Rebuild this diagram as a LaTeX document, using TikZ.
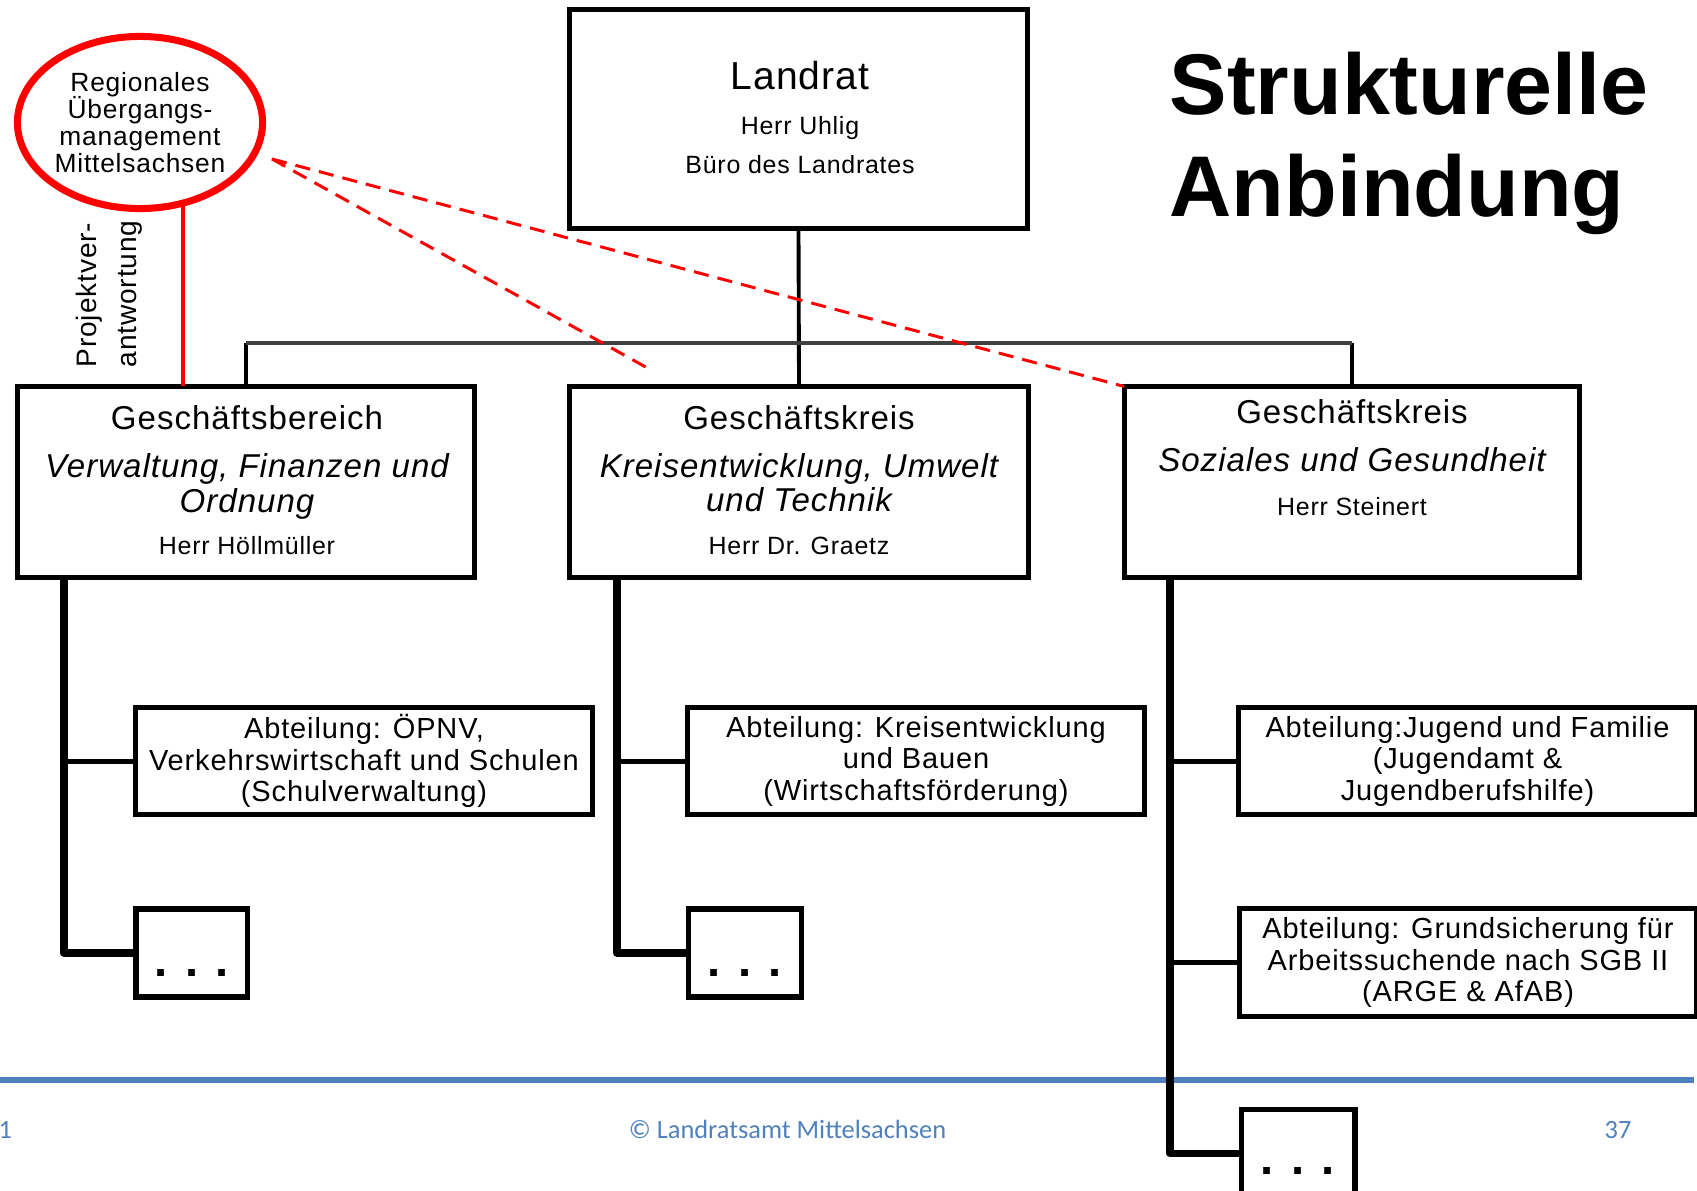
\documentclass[tikz,border=0pt]{standalone}
\usepackage{fontspec}
\usetikzlibrary{shapes.geometric}

\newfontfamily\orgfont[LetterSpace=3]{Liberation Sans}
\newfontfamily\titlefont{Liberation Sans}
\newfontfamily\footfont{Carlito}
\definecolor{footblue}{RGB}{79,129,189}
\newcommand{\orgsize}[2]{\fontsize{#1}{#2}\selectfont\lineskiplimit=-100pt}

\tikzset{
  orgbox/.style={draw, rectangle, line width=1.42pt, inner sep=0pt, outer sep=0pt},
  abtext/.style={font=\orgfont\orgsize{8.25}{8.93}, align=center},
  chieftext/.style={font=\orgfont\orgsize{11.1}{13}, anchor=base},
  headtext/.style={font=\orgfont\orgsize{9.4}{11}, anchor=base},
  areatext/.style={font=\orgfont\itshape\orgsize{9.4}{11}, anchor=base},
  nametext/.style={font=\orgfont\orgsize{7.1}{8.5}, anchor=base},
  moretext/.style={font=\titlefont\bfseries\orgsize{13.4}{15}, anchor=base},
  titletext/.style={font=\titlefont\bfseries\orgsize{24.5}{29}, anchor=base west, inner sep=0pt},
  projtext/.style={font=\orgfont\orgsize{8}{9}, rotate=90, anchor=base west, inner sep=0pt},
  foottext/.style={font=\footfont\orgsize{7.5}{9}, text=footblue, inner sep=0pt},
  topline/.style={line width=1.1pt},
  barline/.style={line width=1.2pt, black!75},
  trunk/.style={line width=2.2pt, line join=round},
  branch/.style={line width=1.4pt},
  projline/.style={red, line width=1pt},
  reddash/.style={red, line width=0.85pt, dash pattern=on 4.3pt off 2.6pt},
  footline/.style={footblue, line width=1.7pt}
}

\begin{document}
\begin{tikzpicture}[x=0.01cm, y=-0.01cm]
\useasboundingbox (0,0) rectangle (1697,1191);
\clip (0,0) rectangle (1697,1191);

% footer
\draw[footline] (0,1080) -- (1694,1080);
\node[foottext, anchor=base west] (pgl) at (-2,1138) {1};
\node[foottext, anchor=base] (copy) at (787.5,1138) {© Landratsamt Mittelsachsen};
\node[foottext, anchor=base] (pgr) at (1618,1138) {37};

% title
\node[titletext] (tit1) at (1169,115) {Strukturelle};
\node[titletext] (tit2) at (1169,217) {Anbindung};

% Landrat
\node[orgbox, minimum width=4.58cm, minimum height=2.185cm] (landrat) at (798.5,118.75) {};
\node[chieftext] (lrname) at (800,90) {Landrat};
\node[nametext] (lrherr) at (800,135) {Herr Uhlig};
\node[nametext] (lrbuero) at (800,173) {Büro des Landrates};

% Geschaeftsbereiche
\node[orgbox, minimum width=4.56cm, minimum height=1.91cm] (gb) at (246,482) {};
\node[headtext] (gbhead) at (247,429) {Geschäftsbereich};
\node[areatext] (gbarea1) at (247,477) {Verwaltung, Finanzen und};
\node[areatext] (gbarea2) at (247,512) {Ordnung};
\node[nametext] (gbherr) at (247,554) {Herr Höllmüller};

\node[orgbox, minimum width=4.58cm, minimum height=1.91cm] (gk1) at (799,482) {};
\node[headtext] (gk1head) at (799,429) {Geschäftskreis};
\node[areatext] (gk1area1) at (799,477) {Kreisentwicklung, Umwelt};
\node[areatext] (gk1area2) at (799,511) {und Technik};
\node[nametext] (gk1herr) at (799,554) {Herr Dr. Graetz};

\node[orgbox, minimum width=4.555cm, minimum height=1.91cm] (gk2) at (1352,482) {};
\node[headtext] (gk2head) at (1352,423) {Geschäftskreis};
\node[areatext] (gk2area) at (1352,471) {Soziales und Gesundheit};
\node[nametext] (gk2herr) at (1352,515) {Herr Steinert};

% Abteilungen
\node[orgbox, abtext, minimum width=4.575cm, minimum height=1.065cm] (ab1) at (364,761.25)
  {Abteilung: ÖPNV,\\Verkehrswirtschaft und Schulen\\(Schulverwaltung)};
\node[orgbox, abtext, minimum width=4.565cm, minimum height=1.065cm] (ab2) at (916,761.25)
  {Abteilung: Kreisentwicklung\\und Bauen\\(Wirtschaftsförderung)};
\node[orgbox, abtext, minimum width=4.57cm, minimum height=1.065cm] (ab3) at (1467.5,761.25)
  {Abteilung:Jugend und Familie\\(Jugendamt \&\\Jugendberufshilfe)};
\node[orgbox, abtext, minimum width=4.57cm, minimum height=1.07cm] (ab4) at (1468,962.5)
  {Abteilung: Grundsicherung für\\Arbeitssuchende nach SGB II\\(ARGE \& AfAB)};

\node[orgbox, line width=1.55pt, minimum width=1.115cm, minimum height=0.88cm] (more1) at (191.75,953) {};
\node[moretext] (more1d) at (191.75,976) {. . .};
\node[orgbox, line width=1.55pt, minimum width=1.125cm, minimum height=0.88cm] (more2) at (745,953) {};
\node[moretext] (more2d) at (745,976) {. . .};
\node[orgbox, line width=1.55pt, minimum width=1.135cm, minimum height=0.88cm] (more3) at (1298,1153.5) {};
\node[moretext] (more3d) at (1298,1174) {. . .};

% Uebergangsmanagement
\node[ellipse, draw=red, line width=2pt, inner sep=0pt, outer sep=0pt,
  minimum width=2.45cm, minimum height=1.72cm, align=center,
  font=\orgfont\orgsize{7.5}{7.6}] (ume) at (140,122.5)
  {Regionales\\Übergangs-\\management\\Mittelsachsen};
\node[projtext] (pv1) at (96,368) {Projektver-};
\node[projtext] (pv2) at (136,368) {antwortung};

% Verbindungen
\coordinate (bar) at (799,343);
\draw[topline] (landrat.south) -- (gk1.north);
\draw[topline] (gb.north |- bar) -- (gb.north);
\draw[topline] (gk2.north |- bar) -- (gk2.north);
\draw[barline] (gb.north |- bar) -- (gk2.north |- bar);

\coordinate (gbt) at (63.7,577.5);
\coordinate (gk1t) at (617,577.5);
\coordinate (gk2t) at (1170,577.5);
\draw[trunk] (gbt) |- (more1.west);
\draw[branch] (gbt |- ab1.west) -- (ab1.west);
\draw[trunk] (gk1t) |- (more2.west);
\draw[branch] (gk1t |- ab2.west) -- (ab2.west);
\draw[trunk] (gk2t) |- (more3.west);
\draw[branch] (gk2t |- ab3.west) -- (ab3.west);
\draw[branch] (gk2t |- ab4.west) -- (ab4.west);

\draw[projline] (ume.-62) -- (ume.-62 |- gb.north);
\coordinate (rd) at (272,159);
\coordinate (rk) at (651,370);
\draw[reddash] (rd) -- (rk);
\draw[reddash] (rd) -- (gk2.north west);
\end{tikzpicture}
\end{document}
